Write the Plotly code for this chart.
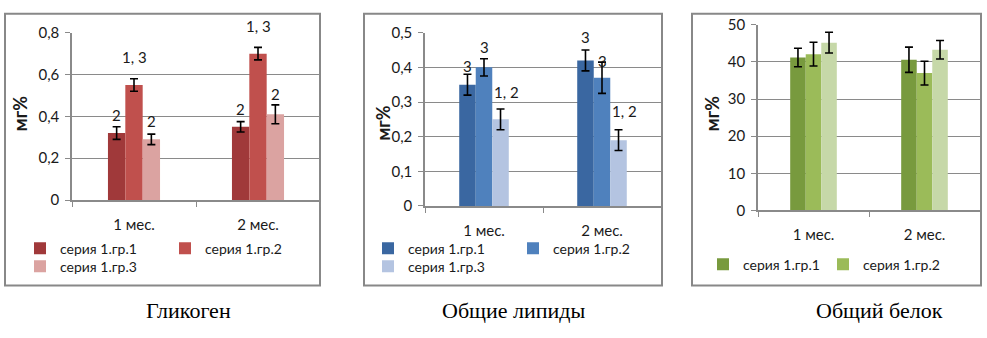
import plotly.graph_objects as go

W, H = 987, 338

# ---------------- data ----------------
categories = ["1 мес.", "2 мес."]
series_names = ["серия 1.гр.1", "серия 1.гр.2", "серия 1.гр.3"]

glyc_gr1 = [0.32, 0.35]
glyc_gr2 = [0.55, 0.70]
glyc_gr3 = [0.29, 0.41]
glyc_err1 = [0.03, 0.025]
glyc_err2 = [0.03, 0.03]
glyc_err3 = [0.025, 0.045]
glyc_labels = [["2", "2"], ["1, 3", "1, 3"], ["2", "2"]]

lip_gr1 = [0.35, 0.42]
lip_gr2 = [0.40, 0.37]
lip_gr3 = [0.25, 0.19]
lip_err1 = [0.03, 0.03]
lip_err2 = [0.025, 0.045]
lip_err3 = [0.03, 0.03]
lip_labels = [["3", "3"], ["3", "3"], ["1, 2", "1, 2"]]

prot_gr1 = [41.2, 40.6]
prot_gr2 = [42.1, 37.0]
prot_gr3 = [45.2, 43.3]
prot_err1 = [2.5, 3.4]
prot_err2 = [3.2, 3.2]
prot_err3 = [2.8, 2.5]

glyc_ticks = [0, 0.2, 0.4, 0.6, 0.8]
lip_ticks = [0, 0.1, 0.2, 0.3, 0.4, 0.5]
prot_ticks = [0, 10, 20, 30, 40, 50]

captions = ["Гликоген", "Общие липиды", "Общий белок"]

# ---------------- styles ----------------
red_colors = ["#A0393A", "#C0504D", "#DBA3A1"]
blue_colors = ["#3A67A1", "#4F81BD", "#B4C4E1"]
green_colors = ["#789A3E", "#9BBB59", "#C6D8A8"]

FONT = "Lato, 'Open Sans', sans-serif"
GRID = "#8a8a8a"
BORDER = "#888888"
BARGAP = 0.58
TXT = "#1a1a1a"


def px(x):
    return x / W


def py(y):
    return 1 - y / H


panels = [
    dict(vals=[glyc_gr1, glyc_gr2, glyc_gr3], errs=[glyc_err1, glyc_err2, glyc_err3],
         colors=red_colors, labels=glyc_labels,
         lab_shift=[[12, 13], [22, 21], [13, 11]], lab_xshift=[[0, 0], [0, 0], [0, 0]],
         xdom=(72, 320), ydom=(24, 200.7), yr=(0, 0.8), ticks=glyc_ticks,
         legends=[("legend", 20, 252, [0, 1]), ("legend4", 20, 271, [2])],
         ytitle=(20, 110), box=(5, 320), caption=(188, 317)),
    dict(vals=[lip_gr1, lip_gr2, lip_gr3], errs=[lip_err1, lip_err2, lip_err3],
         colors=blue_colors, labels=lip_labels,
         lab_shift=[[8, 13], [12, 1], [17, 19]], lab_xshift=[[0, 0], [0, 0], [6, 6]],
         xdom=(425, 661), ydom=(24, 207), yr=(0, 0.5), ticks=lip_ticks,
         legends=[("legend2", 368, 252, [0, 1]), ("legend5", 368, 271, [2])],
         ytitle=(383, 120), box=(364, 662), caption=(514, 317)),
    dict(vals=[prot_gr1, prot_gr2, prot_gr3], errs=[prot_err1, prot_err2, prot_err3],
         colors=green_colors, labels=None,
         lab_shift=None, lab_xshift=None,
         xdom=(758, 980), ydom=(15.7, 211.7), yr=(0, 50), ticks=prot_ticks,
         legends=[("legend3", 703, 269, [0, 1])],
         ytitle=(712, 110), box=(692, 981), caption=(879, 317)),
]

fig = go.Figure()
layout = dict(
    width=W, height=H, margin=dict(l=0, r=0, t=0, b=0),
    paper_bgcolor="white", plot_bgcolor="white",
    barmode="group", bargap=BARGAP, bargroupgap=0,
    separators=", ",
    font=dict(family=FONT, size=14, color=TXT),
    showlegend=True,
)
shapes = []
annotations = []

for pi, p in enumerate(panels):
    n = pi + 1
    xa = "x" if n == 1 else f"x{n}"
    ya = "y" if n == 1 else f"y{n}"
    legend_of = {}
    for lid, lx, ly, idxs in p["legends"]:
        for i in idxs:
            legend_of[i] = lid
    for j in range(3):
        fig.add_trace(go.Bar(
            x=categories, y=p["vals"][j], name=series_names[j],
            marker=dict(color=p["colors"][j], line=dict(width=0)),
            error_y=dict(type="data", array=p["errs"][j], visible=True,
                         color="black", thickness=1.6, width=4),
            xaxis=xa, yaxis=ya,
            legend=legend_of.get(j, "legend"),
            showlegend=j in legend_of,
        ))
    xkey = "xaxis" if n == 1 else f"xaxis{n}"
    ykey = "yaxis" if n == 1 else f"yaxis{n}"
    x0, x1 = p["xdom"]
    yt, yb = p["ydom"]
    layout[xkey] = dict(
        domain=[px(x0), px(x1)], anchor=ya, type="category",
        showgrid=False, showline=True, linecolor=GRID, linewidth=1.5,
        ticks="outside", ticklen=5, tickcolor=GRID, tickson="boundaries",
        ticklabelstandoff=10, tickfont=dict(size=15, color=TXT),
        fixedrange=True,
    )
    layout[ykey] = dict(
        domain=[py(yb), py(yt)], anchor=xa, range=list(p["yr"]),
        tickvals=p["ticks"], showgrid=True, gridcolor=GRID, gridwidth=1.2,
        showline=True, linecolor=GRID, linewidth=1.5, zeroline=False,
        ticks="outside", ticklen=5, tickcolor=GRID, ticklabelstandoff=3,
        tickfont=dict(size=15, color=TXT), fixedrange=True,
    )
    for lid, lx, ly, idxs in p["legends"]:
        layout[lid] = dict(
            orientation="h", x=px(lx), y=py(ly), xanchor="left", yanchor="middle",
            xref="paper", yref="paper",
            entrywidth=100 if n < 3 else 75, entrywidthmode="pixels",
            bgcolor="rgba(0,0,0,0)", borderwidth=0,
            font=dict(family=FONT, size=14, color=TXT),
            traceorder="normal", itemclick=False, itemdoubleclick=False,
        )
    # significance labels
    if p["labels"]:
        cat_px = (x1 - x0) / len(categories)
        bw = cat_px * (1 - BARGAP) / 3
        for j in range(3):
            for k, cat in enumerate(categories):
                top = p["vals"][j][k] + p["errs"][j][k]
                annotations.append(dict(
                    x=cat, y=top, xref=xa, yref=ya, text=p["labels"][j][k],
                    showarrow=False, yanchor="middle", xanchor="center",
                    xshift=(j - 1) * bw + p["lab_xshift"][j][k],
                    yshift=p["lab_shift"][j][k],
                    font=dict(family=FONT, size=15, color=TXT),
                ))
    # y axis title
    tx, ty = p["ytitle"]
    annotations.append(dict(
        x=px(tx), y=py(ty), xref="paper", yref="paper", text="<b>мг%</b>",
        textangle=-90, showarrow=False, xanchor="center", yanchor="middle",
        font=dict(family=FONT, size=18, color=TXT),
    ))
    # caption
    cx, cy = p["caption"]
    annotations.append(dict(
        x=px(cx), y=py(cy), xref="paper", yref="paper", text=captions[pi],
        showarrow=False, xanchor="center", yanchor="middle",
        font=dict(family="'Liberation Serif', 'Times New Roman', serif", size=22, color="black"),
    ))
    # panel border
    bx0, bx1 = p["box"]
    shapes.append(dict(
        type="rect", xref="paper", yref="paper",
        x0=px(bx0), x1=px(bx1), y0=py(291), y1=py(4),
        line=dict(color=BORDER, width=2), fillcolor="rgba(0,0,0,0)", layer="below",
    ))

layout["shapes"] = shapes
layout["annotations"] = annotations
fig.update_layout(**layout)
fig.write_html("out.html")
